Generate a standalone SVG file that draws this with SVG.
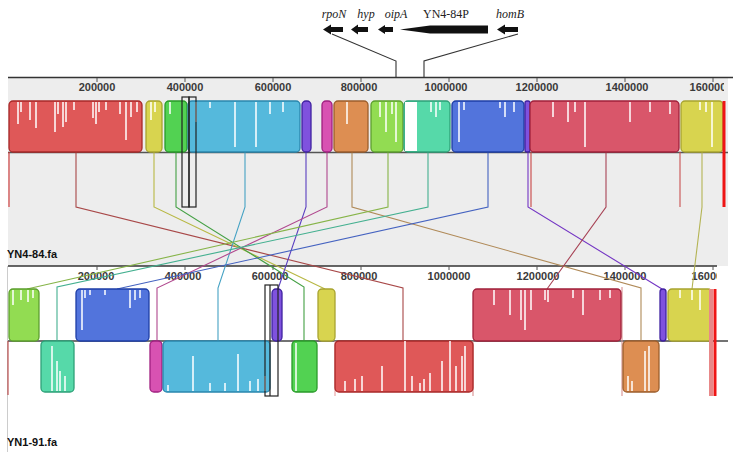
<svg xmlns="http://www.w3.org/2000/svg" width="733" height="458" viewBox="0 0 733 458">
<defs>
<style>
.ax{stroke:#333;stroke-width:1.3;fill:none}
.tk{stroke:#555;stroke-width:1}
.lb{font-family:"Liberation Sans",Arial,sans-serif;font-size:11px;font-weight:bold;fill:#3a3a3a;text-anchor:middle}
.nm{font-family:"Liberation Sans",Arial,sans-serif;font-size:11px;font-weight:bold;fill:#111}
.gn{font-family:"Liberation Serif","Times New Roman",serif;font-size:12px;fill:#222;text-anchor:middle}
.it{font-style:italic}
.blk{stroke-width:1.3}
.red{fill:#df5858;stroke:#a82828}
.yel{fill:#d8d44f;stroke:#a8a430}
.grn{fill:#52d252;stroke:#2a9a2a}
.cya{fill:#55b9dc;stroke:#2a86ad}
.pur{fill:#7f52de;stroke:#3f22a0}
.mag{fill:#d852b2;stroke:#a02080}
.ora{fill:#dd8e52;stroke:#9c5e2c}
.lgr{fill:#92dc52;stroke:#5c9e2e}
.min{fill:#56d9a9;stroke:#2ea078}
.blu{fill:#5274dc;stroke:#1e3ea6}
.crm{fill:#d9566a;stroke:#a0203a}
.prof{stroke:#fff;stroke-width:1.5;fill:none}
.cn{fill:none;stroke-width:1.1}
.sel{fill:none;stroke:#222;stroke-width:1.2}
.ann{fill:none;stroke:#333;stroke-width:1.1}
</style>
<clipPath id="clipTop"><rect x="0" y="70" width="724" height="30"/></clipPath>
<clipPath id="clipBot"><rect x="0" y="260" width="717" height="30"/></clipPath>
</defs>
<rect width="733" height="458" fill="#fff"/>
<rect x="8" y="78" width="720" height="188" fill="#ededed"/>

<g id="annotation">
<text class="gn it" x="334" y="18">rpoN</text>
<text class="gn it" x="366" y="18">hyp</text>
<text class="gn it" x="396" y="18">oipA</text>
<text class="gn" x="446" y="18">YN4-84P</text>
<text class="gn it" x="510" y="18">homB</text>
<polygon points="323,29.5 331,24.5 331,27 343,27 343,32 331,32 331,34.5" fill="#111"/>
<polygon points="351,29.5 358,24.5 358,27 368,27 368,32 358,32 358,34.5" fill="#111"/>
<polygon points="378,29.5 385,25 385,27 393,27 393,32 385,32 385,34" fill="#111"/>
<polygon points="400,29.5 430,25.5 488,25.5 488,33.5 430,33.5" fill="#111"/>
<polygon points="497,29.5 505,24.5 505,27 518,27 518,32 505,32 505,34.5" fill="#111"/>
<polyline class="ann" points="332,34 396,61 396,77"/>
<polyline class="ann" points="518,34 424,61 424,77"/>
</g>

<g id="top-axis">
<line class="ax" x1="8" y1="77.5" x2="733" y2="77.5"/>
<g class="tk">
<line x1="97" y1="78" x2="97" y2="82"/><line x1="185" y1="78" x2="185" y2="82"/><line x1="273" y1="78" x2="273" y2="82"/><line x1="361" y1="78" x2="361" y2="82"/><line x1="449" y1="78" x2="449" y2="82"/><line x1="537" y1="78" x2="537" y2="82"/><line x1="625" y1="78" x2="625" y2="82"/><line x1="713" y1="78" x2="713" y2="82"/>
</g>
<g clip-path="url(#clipTop)">
<text class="lb" x="97" y="91">200000</text><text class="lb" x="185" y="91">400000</text><text class="lb" x="273" y="91">600000</text><text class="lb" x="359" y="91">800000</text><text class="lb" x="446" y="91">1000000</text><text class="lb" x="537" y="91">1200000</text><text class="lb" x="627" y="91">1400000</text><text class="lb" x="711" y="91">1600000</text>
</g>
<line x1="8" y1="152.5" x2="728" y2="152.5" stroke="#555" stroke-width="1.3"/>
<text class="nm" x="7" y="258">YN4-84.fa</text>
</g>

<g id="bottom-axis">
<line x1="7.5" y1="266" x2="7.5" y2="452" stroke="#ccc" stroke-width="1"/>
<line class="ax" x1="8" y1="266" x2="717" y2="266"/>
<g class="tk">
<line x1="97" y1="266" x2="97" y2="270"/><line x1="185" y1="266" x2="185" y2="270"/><line x1="273" y1="266" x2="273" y2="270"/><line x1="361" y1="266" x2="361" y2="270"/><line x1="449" y1="266" x2="449" y2="270"/><line x1="537" y1="266" x2="537" y2="270"/><line x1="625" y1="266" x2="625" y2="270"/><line x1="713" y1="266" x2="713" y2="270"/>
</g>
<g clip-path="url(#clipBot)">
<text class="lb" x="96" y="280">200000</text><text class="lb" x="183" y="280">400000</text><text class="lb" x="270" y="280">600000</text><text class="lb" x="359" y="280">800000</text><text class="lb" x="449" y="280">1000000</text><text class="lb" x="538" y="280">1200000</text><text class="lb" x="625" y="280">1400000</text><text class="lb" x="713" y="280">1600000</text>
</g>
<line x1="8" y1="341" x2="728" y2="341" stroke="#444" stroke-width="1.3"/>
<text class="nm" x="7" y="446">YN1-91.fa</text>
</g>

<g id="connectors">
<polyline class="cn" stroke="#a84848" points="76,152 76,207 403,288 403,341"/>
<polyline class="cn" stroke="#b8b844" points="154,152 154,207 325,289"/>
<polyline class="cn" stroke="#44a044" points="176,152 176,207 304,287 304,341"/>
<polyline class="cn" stroke="#45a2c4" points="245,152 245,207 218,288 218,341"/>
<polyline class="cn" stroke="#5a3ec0" points="306,152 306,207 278,289"/>
<polyline class="cn" stroke="#b0488e" points="327,152 327,207 157,288 157,341"/>
<polyline class="cn" stroke="#b08a58" points="352,152 352,207 641,288 641,341"/>
<polyline class="cn" stroke="#86b448" points="388,152 388,207 27,289"/>
<polyline class="cn" stroke="#44b090" points="428,152 428,207 57,287 57,341"/>
<polyline class="cn" stroke="#4462c0" points="488,152 488,207 117,289"/>
<polyline class="cn" stroke="#7436c4" points="528,152 528,207 662,289"/>
<polyline class="cn" stroke="#a84456" points="606,152 606,207 547,289"/>
<polyline class="cn" stroke="#b4b454" points="702,152 702,207 692,289"/>
<line class="cn" stroke="#c84444" x1="531" y1="152" x2="531" y2="207"/>
<line class="cn" stroke="#c85050" x1="680" y1="152" x2="680" y2="207"/>
<line class="cn" stroke="#cc3030" x1="9" y1="152" x2="9" y2="207"/>
<line class="cn" stroke="#b84040" x1="8" y1="341" x2="8" y2="395"/>
<line class="cn" stroke="#d89090" x1="473" y1="341" x2="473" y2="396"/>
<line class="cn" stroke="#d89090" x1="622" y1="287" x2="622" y2="396"/>
<line class="cn" stroke="#e8a0a0" x1="335" y1="341" x2="335" y2="396"/>
</g>

<!-- top genome blocks -->
<g id="t-red"><rect class="blk red" x="9" y="101" width="133" height="51" rx="4"/><path class="prof" d="M18 102v22M21 102v10M30 102v18M36 102v26M55 102v30M58 102v12M63 102v25M66 102v20M74 102v8M93 102v16M96 102v22M99 102v10M106 102v8M120 102v12M126 102v38M131 102v15M137 102v10"/></g>
<g id="t-yellow"><rect class="blk yel" x="146" y="101" width="16" height="51" rx="4"/><path class="prof" d="M151 102v18M155 102v10"/></g>
<g id="t-green"><rect class="blk grn" x="165" y="101" width="22" height="51" rx="4"/><path class="prof" d="M170 102v12"/></g>
<g id="t-cyan"><rect class="blk cya" x="188" y="101" width="112" height="51" rx="4"/><path class="prof" d="M196 102v20M210 102v6M235 102v45M256 102v45M270 102v12M283 102v10"/></g>
<g id="t-purple"><rect class="blk pur" x="302" y="101" width="9" height="51" rx="4"/></g>
<g id="t-magenta"><rect class="blk mag" x="322" y="101" width="10" height="51" rx="4"/></g>
<g id="t-orange"><rect class="blk ora" x="334" y="101" width="34" height="51" rx="4"/><path class="prof" d="M347 102v22"/></g>
<g id="t-lightgreen"><rect class="blk lgr" x="371" y="101" width="32" height="51" rx="4"/><path class="prof" d="M380 102v15M386 102v30M392 102v12M396 102v40"/></g>
<g id="t-mint"><rect class="blk min" x="404" y="101" width="46" height="51" rx="4"/><rect x="405" y="102" width="12" height="49" fill="#fff"/><path class="prof" d="M431 102v10M436 102v15M440 102v8"/></g>
<g id="t-blue"><rect class="blk blu" x="452" y="101" width="72" height="51" rx="4"/><path class="prof" d="M459 102v40M464 102v8M500 102v6M505 102v15M514 102v10"/></g>
<g id="t-purple2"><rect class="blk pur" x="525" y="101" width="5" height="51" rx="2"/></g>
<g id="t-crimson"><rect class="blk crm" x="530" y="101" width="149" height="51" rx="4"/><path class="prof" d="M553 102v15M568 102v20M575 102v10M585 102v45M630 102v20M650 102v10M670 102v12"/></g>
<g id="t-yellow2"><rect class="blk yel" x="681" y="101" width="42" height="51" rx="4"/><path class="prof" d="M700 102v8M706 102v10M712 102v45"/></g>
<g id="t-redend"><line x1="724" y1="101" x2="724" y2="207" stroke="#ee1515" stroke-width="3"/></g>
<g id="t-select"><rect class="sel" x="182" y="97" width="7" height="110"/><rect class="sel" x="189" y="97" width="7" height="110"/></g>

<!-- bottom genome blocks, forward -->
<g id="b-lightgreen"><rect class="blk lgr" x="9" y="289" width="30" height="52" rx="4"/><path class="prof" d="M13 290v15M21 290v10M28 290v12M33 290v8"/></g>
<g id="b-blue"><rect class="blk blu" x="76" y="289" width="73" height="52" rx="4"/><path class="prof" d="M82 290v40M85 290v8M90 290v5M105 290v5M130 290v18M135 290v10M140 290v8"/></g>
<g id="b-purple"><rect class="blk pur" x="272" y="289" width="10" height="52" rx="4"/></g>
<g id="b-yellow"><rect class="blk yel" x="318" y="289" width="17" height="52" rx="4"/></g>
<g id="b-crimson"><rect class="blk crm" x="473" y="289" width="148" height="52" rx="4"/><path class="prof" d="M494 290v15M510 290v25M521 290v30M525 290v40M531 290v20M545 290v10M548 290v12M573 290v8M583 290v25M600 290v10M610 290v8"/></g>
<g id="b-purple2"><rect class="blk pur" x="660" y="289" width="6" height="52" rx="3"/></g>
<g id="b-yellow2"><rect class="blk yel" x="668" y="289" width="44" height="52" rx="4"/><path class="prof" d="M680 290v8M692 290v10M700 290v20"/><rect x="709" y="289" width="4" height="107" fill="#e88888"/><line x1="715" y1="289" x2="715" y2="396" stroke="#ee1515" stroke-width="3"/></g>

<!-- bottom genome blocks, reverse -->
<g id="b-mint"><rect class="blk min" x="41" y="341" width="33" height="51" rx="4"/><path class="prof" d="M52 391v-45M57 391v-30M60 391v-20M65 391v-15"/></g>
<g id="b-magenta"><rect class="blk mag" x="150" y="341" width="12" height="51" rx="4"/></g>
<g id="b-cyan"><rect class="blk cya" x="163" y="341" width="107" height="51" rx="4"/><path class="prof" d="M168 391v-6M193 391v-35M210 391v-8M225 391v-8M238 391v-37M250 391v-10M258 391v-12M265 391v-15"/></g>
<g id="b-green"><rect class="blk grn" x="292" y="341" width="25" height="51" rx="4"/><path class="prof" d="M296 391v-48"/></g>
<g id="b-red"><rect class="blk red" x="335" y="341" width="138" height="51" rx="4"/><path class="prof" d="M345 391v-10M355 391v-12M362 391v-15M382 391v-25M405 391v-50M412 391v-15M420 391v-8M424 391v-12M430 391v-18M442 391v-30M450 391v-50M456 391v-25M462 391v-35M465 391v-45"/></g>
<g id="b-orange"><rect class="blk ora" x="623" y="341" width="36" height="51" rx="4"/><path class="prof" d="M628 391v-15M632 391v-10M645 391v-40M649 391v-45"/></g>
<g id="b-select"><rect class="sel" x="265" y="285" width="13" height="111"/><line class="sel" x1="270" y1="285" x2="270" y2="396"/></g>
</svg>
